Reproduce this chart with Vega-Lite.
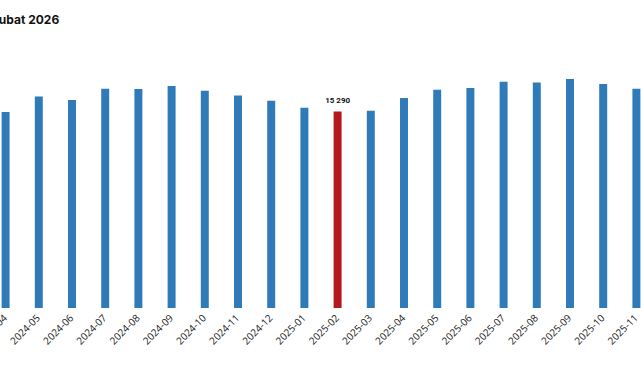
{
  "$schema": "https://vega.github.io/schema/vega-lite/v6.json",
  "autosize": {"type": "none"},
  "width": 664,
  "height": 257,
  "padding": {"left": -11, "top": 51, "right": 0, "bottom": 72},
  "title": {"text": "Şubat 2026", "anchor": "start", "frame": "group", "font": "Inter", "fontSize": 12, "fontWeight": "bold", "color": "#111111", "dx": 2, "offset": 24},
  "config": {
    "view": {"stroke": null},
    "locale": {"number": {"decimal": ",", "thousands": " ", "grouping": [3], "currency": ["", ""]}}
  },
  "data": {"values": [
    {"month": "2024-04", "value": 15245, "highlight": false},
    {"month": "2024-05", "value": 16460, "highlight": false},
    {"month": "2024-06", "value": 16180, "highlight": false},
    {"month": "2024-07", "value": 17060, "highlight": false},
    {"month": "2024-08", "value": 17035, "highlight": false},
    {"month": "2024-09", "value": 17270, "highlight": false},
    {"month": "2024-10", "value": 16900, "highlight": false},
    {"month": "2024-11", "value": 16540, "highlight": false},
    {"month": "2024-12", "value": 16125, "highlight": false},
    {"month": "2025-01", "value": 15580, "highlight": false},
    {"month": "2025-02", "value": 15290, "highlight": true},
    {"month": "2025-03", "value": 15345, "highlight": false},
    {"month": "2025-04", "value": 16335, "highlight": false},
    {"month": "2025-05", "value": 16980, "highlight": false},
    {"month": "2025-06", "value": 17115, "highlight": false},
    {"month": "2025-07", "value": 17605, "highlight": false},
    {"month": "2025-08", "value": 17550, "highlight": false},
    {"month": "2025-09", "value": 17815, "highlight": false},
    {"month": "2025-10", "value": 17425, "highlight": false},
    {"month": "2025-11", "value": 17060, "highlight": false}
  ]},
  "encoding": {
    "x": {"field": "month", "type": "ordinal", "sort": null,
      "scale": {"paddingInner": 0.76, "paddingOuter": 0.38},
      "axis": {"title": null, "labelAngle": -45, "labelAlign": "right", "labelBaseline": "middle", "labelPadding": 8, "ticks": false, "domain": false, "labelFont": "Open Sans", "labelFontSize": 10, "labelColor": "#222222"}},
    "y": {"field": "value", "type": "quantitative", "scale": {"domain": [0, 20000], "nice": false}, "axis": null}
  },
  "layer": [
    {"mark": {"type": "bar"},
     "encoding": {"color": {"field": "highlight", "type": "nominal", "scale": {"domain": [false, true], "range": ["#2f7ab8", "#b3181c"]}, "legend": null}}},
    {"transform": [{"filter": "datum.highlight"}],
     "mark": {"type": "text", "dy": -7, "baseline": "bottom", "font": "Roboto", "fontSize": 8, "fontWeight": "bold", "color": "#111111"},
     "encoding": {"text": {"field": "value", "type": "quantitative", "format": ",d"}}}
  ]
}
